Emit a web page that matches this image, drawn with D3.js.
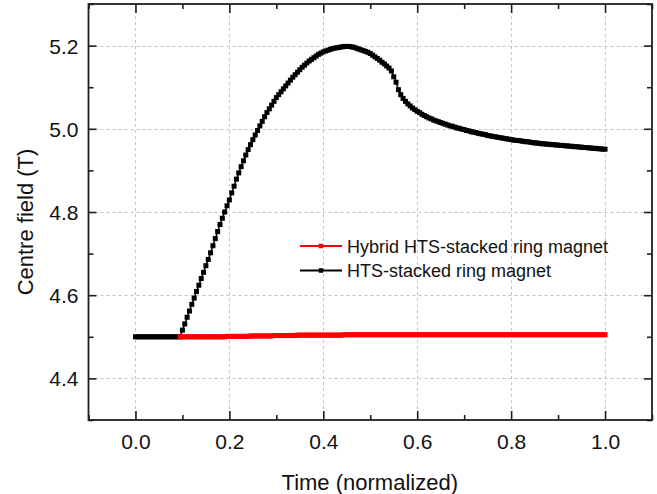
<!DOCTYPE html>
<html>
<head>
<meta charset="utf-8">
<script src="https://cdn.jsdelivr.net/npm/d3@7"></script>
<style>
  html, body { margin: 0; padding: 0; background: #fff; }
  svg { display: block; font-family: "Liberation Sans", Arial, sans-serif; }
</style>
</head>
<body>
<svg id="chart" width="657" height="494"></svg>
<script>
// ---------------- data ----------------
const seriesNames = ["Hybrid HTS-stacked ring magnet", "HTS-stacked ring magnet"];
const seriesColors = ["#ff0000", "#000000"];

const timeStep = 0.005;            // sampling interval of the curves (normalized time)
const blackStart = 0.0;            // HTS-stacked ring magnet starts at t = 0
const redStart = 0.095;            // hybrid magnet starts at t = 0.095

// HTS-stacked ring magnet, centre field (T)
const blackValues = [
  4.500,4.500,4.500,4.500,4.500,4.500,4.500,4.500,4.500,4.500,
  4.500,4.500,4.500,4.500,4.500,4.500,4.500,4.500,4.500,4.500,
  4.516,4.531,4.547,4.562,4.578,4.593,4.609,4.624,4.640,4.655,
  4.671,4.686,4.702,4.719,4.736,4.753,4.770,4.785,4.800,4.815,
  4.829,4.846,4.862,4.879,4.894,4.909,4.923,4.937,4.950,4.962,
  4.974,4.985,4.996,5.007,5.018,5.029,5.039,5.048,5.057,5.066,
  5.075,5.082,5.089,5.096,5.103,5.110,5.117,5.124,5.130,5.136,
  5.142,5.148,5.153,5.158,5.163,5.167,5.171,5.175,5.179,5.182,
  5.185,5.187,5.189,5.191,5.193,5.194,5.195,5.196,5.197,5.198,
  5.198,5.198,5.197,5.196,5.194,5.192,5.190,5.188,5.186,5.184,
  5.181,5.177,5.173,5.169,5.165,5.160,5.156,5.151,5.146,5.139,
  5.125,5.112,5.094,5.082,5.073,5.066,5.060,5.055,5.050,5.046,
  5.042,5.039,5.035,5.032,5.029,5.026,5.024,5.021,5.019,5.017,
  5.015,5.013,5.011,5.009,5.007,5.006,5.004,5.002,5.001,4.999,
  4.998,4.996,4.995,4.993,4.992,4.991,4.989,4.988,4.987,4.986,
  4.984,4.983,4.982,4.981,4.980,4.979,4.978,4.977,4.976,4.975,
  4.974,4.973,4.972,4.972,4.971,4.970,4.969,4.969,4.968,4.967,
  4.966,4.966,4.965,4.964,4.964,4.963,4.963,4.962,4.962,4.961,
  4.961,4.960,4.960,4.959,4.959,4.958,4.958,4.957,4.957,4.956,
  4.956,4.955,4.955,4.954,4.954,4.953,4.953,4.952,4.952,4.951,
  4.951
];

// Hybrid HTS-stacked ring magnet, centre field (T)
const redValues = [
  4.500,4.500,4.500,4.500,4.500,4.500,4.500,4.500,4.500,4.500,
  4.500,4.500,4.500,4.500,4.500,4.500,4.500,4.500,4.500,4.500,
  4.501,4.501,4.501,4.501,4.501,4.501,4.501,4.501,4.501,4.501,
  4.502,4.502,4.502,4.502,4.502,4.502,4.502,4.502,4.502,4.502,
  4.503,4.503,4.503,4.503,4.503,4.503,4.503,4.503,4.503,4.503,
  4.504,4.504,4.504,4.504,4.504,4.504,4.504,4.504,4.504,4.504,
  4.504,4.504,4.504,4.504,4.504,4.504,4.504,4.504,4.504,4.504,
  4.505,4.505,4.505,4.505,4.505,4.505,4.505,4.505,4.505,4.505,
  4.505,4.505,4.505,4.505,4.505,4.505,4.505,4.505,4.505,4.505,
  4.505,4.505,4.505,4.505,4.505,4.505,4.505,4.505,4.505,4.505,
  4.505,4.505,4.505,4.505,4.505,4.505,4.505,4.505,4.505,4.505,
  4.505,4.505,4.505,4.505,4.505,4.505,4.505,4.505,4.505,4.505,
  4.505,4.505,4.505,4.505,4.505,4.505,4.505,4.505,4.505,4.505,
  4.505,4.505,4.505,4.505,4.505,4.505,4.505,4.505,4.505,4.505,
  4.505,4.505,4.505,4.505,4.505,4.505,4.505,4.505,4.505,4.505,
  4.505,4.505,4.505,4.505,4.505,4.505,4.505,4.505,4.505,4.505,
  4.505,4.505,4.505,4.505,4.505,4.505,4.505,4.505,4.505,4.505,
  4.505,4.505,4.505,4.505,4.505,4.505,4.505,4.505,4.505,4.505,
  4.505,4.505
];

const xTicks = [0.0, 0.2, 0.4, 0.6, 0.8, 1.0];
const xMinorTicks = [-0.1, 0.1, 0.3, 0.5, 0.7, 0.9, 1.1];
const yTicks = [4.4, 4.6, 4.8, 5.0, 5.2];
const yMinorTicks = [4.3, 4.5, 4.7, 4.9, 5.1, 5.3];
const xDomain = [-0.1, 1.1];
const yDomain = [4.3, 5.3];
const xTitle = "Time (normalized)";
const yTitle = "Centre field (T)";

// ---------------- layout ----------------
const pLeft = 88.5, pRight = 652, pTop = 4, pBottom = 420;
const svg = d3.select("#chart");

const x = d3.scaleLinear().domain(xDomain).range([pLeft, pRight]);
const y = d3.scaleLinear().domain(yDomain).range([pBottom, pTop]);

const toPoints = (vals, start) => vals.map((v, i) => ({ t: +(start + i * timeStep).toFixed(4), v }));
const blackData = toPoints(blackValues, blackStart);
const redData = toPoints(redValues, redStart);

// grid
const grid = svg.append("g").attr("stroke", "#c4c4c4").attr("stroke-width", 1).attr("stroke-dasharray", "3,3");
grid.selectAll("line.vx").data(xTicks).join("line")
  .attr("x1", d => Math.round(x(d)) + 0.5).attr("x2", d => Math.round(x(d)) + 0.5)
  .attr("y1", pTop).attr("y2", pBottom);
grid.selectAll("line.hy").data(yTicks).join("line")
  .attr("y1", d => Math.round(y(d)) + 0.5).attr("y2", d => Math.round(y(d)) + 0.5)
  .attr("x1", pLeft).attr("x2", pRight);

// series
function drawSeries(data, color) {
  const g = svg.append("g");
  g.append("path").datum(data)
    .attr("fill", "none").attr("stroke", color).attr("stroke-width", 1.5)
    .attr("d", d3.line().x(d => x(d.t)).y(d => y(d.v)));
  const s = 5;
  g.selectAll("rect").data(data).join("rect")
    .attr("x", d => x(d.t) - s / 2).attr("y", d => y(d.v) - s / 2)
    .attr("width", s).attr("height", s).attr("fill", color);
}
drawSeries(blackData, seriesColors[1]);
drawSeries(redData, seriesColors[0]);

// axes (ticks inward, mirrored)
const frameColor = "#1e1e1e";
const axB = d3.axisBottom(x).tickValues(xTicks).tickSize(-9).tickFormat(d3.format(".1f")).tickPadding(14);
const axBm = d3.axisBottom(x).tickValues(xMinorTicks).tickSize(-5).tickFormat("");
const axT = d3.axisTop(x).tickValues(xTicks).tickSize(-9).tickFormat("");
const axTm = d3.axisTop(x).tickValues(xMinorTicks).tickSize(-5).tickFormat("");
const axL = d3.axisLeft(y).tickValues(yTicks).tickSize(-8).tickFormat(d3.format(".1f")).tickPadding(10);
const axLm = d3.axisLeft(y).tickValues(yMinorTicks).tickSize(-5).tickFormat("");
const axR = d3.axisRight(y).tickValues(yTicks).tickSize(-8).tickFormat("");
const axRm = d3.axisRight(y).tickValues(yMinorTicks).tickSize(-5).tickFormat("");

function place(axis, tx, ty) {
  const g = svg.append("g").attr("transform", `translate(${tx},${ty})`).call(axis);
  g.select(".domain").remove();
  g.selectAll(".tick line").attr("stroke", frameColor).attr("stroke-width", 1.6);
  g.selectAll(".tick text").attr("fill", "#111").style("font-size", "21px")
    .style("font-family", "'Liberation Sans', Arial, sans-serif");
  return g;
}
place(axB, 0, pBottom);
place(axBm, 0, pBottom);
place(axT, 0, pTop);
place(axTm, 0, pTop);
const gl = place(axL, pLeft, 0);
gl.selectAll(".tick text").attr("dy", "0.36em");
place(axLm, pLeft, 0);
place(axR, pRight, 0);
place(axRm, pRight, 0);

// frame
svg.append("rect").attr("x", pLeft).attr("y", pTop).attr("width", pRight - pLeft).attr("height", pBottom - pTop)
  .attr("fill", "none").attr("stroke", frameColor).attr("stroke-width", 1.8);

// axis titles
svg.append("text").attr("x", (pLeft + pRight) / 2 - 0.5).attr("y", 490)
  .attr("text-anchor", "middle").style("font-size", "22px").attr("fill", "#111").text(xTitle);
svg.append("text").attr("transform", "translate(33,222) rotate(-90)")
  .attr("text-anchor", "middle").style("font-size", "22px").attr("fill", "#111").text(yTitle);

// legend
const legend = svg.append("g");
const legendRows = [0, 1];
legendRows.forEach((i, k) => {
  const cy = 246 + k * 24.5;
  legend.append("line").attr("x1", 300).attr("x2", 342).attr("y1", cy).attr("y2", cy)
    .attr("stroke", seriesColors[i]).attr("stroke-width", 2);
  legend.append("rect").attr("x", 321 - 2.25).attr("y", cy - 2.25).attr("width", 4.5).attr("height", 4.5)
    .attr("fill", seriesColors[i]);
  legend.append("text").attr("x", 347).attr("y", cy + 6.5).style("font-size", "18px").attr("fill", "#111")
    .text(seriesNames[i]);
});
</script>
</body>
</html>
